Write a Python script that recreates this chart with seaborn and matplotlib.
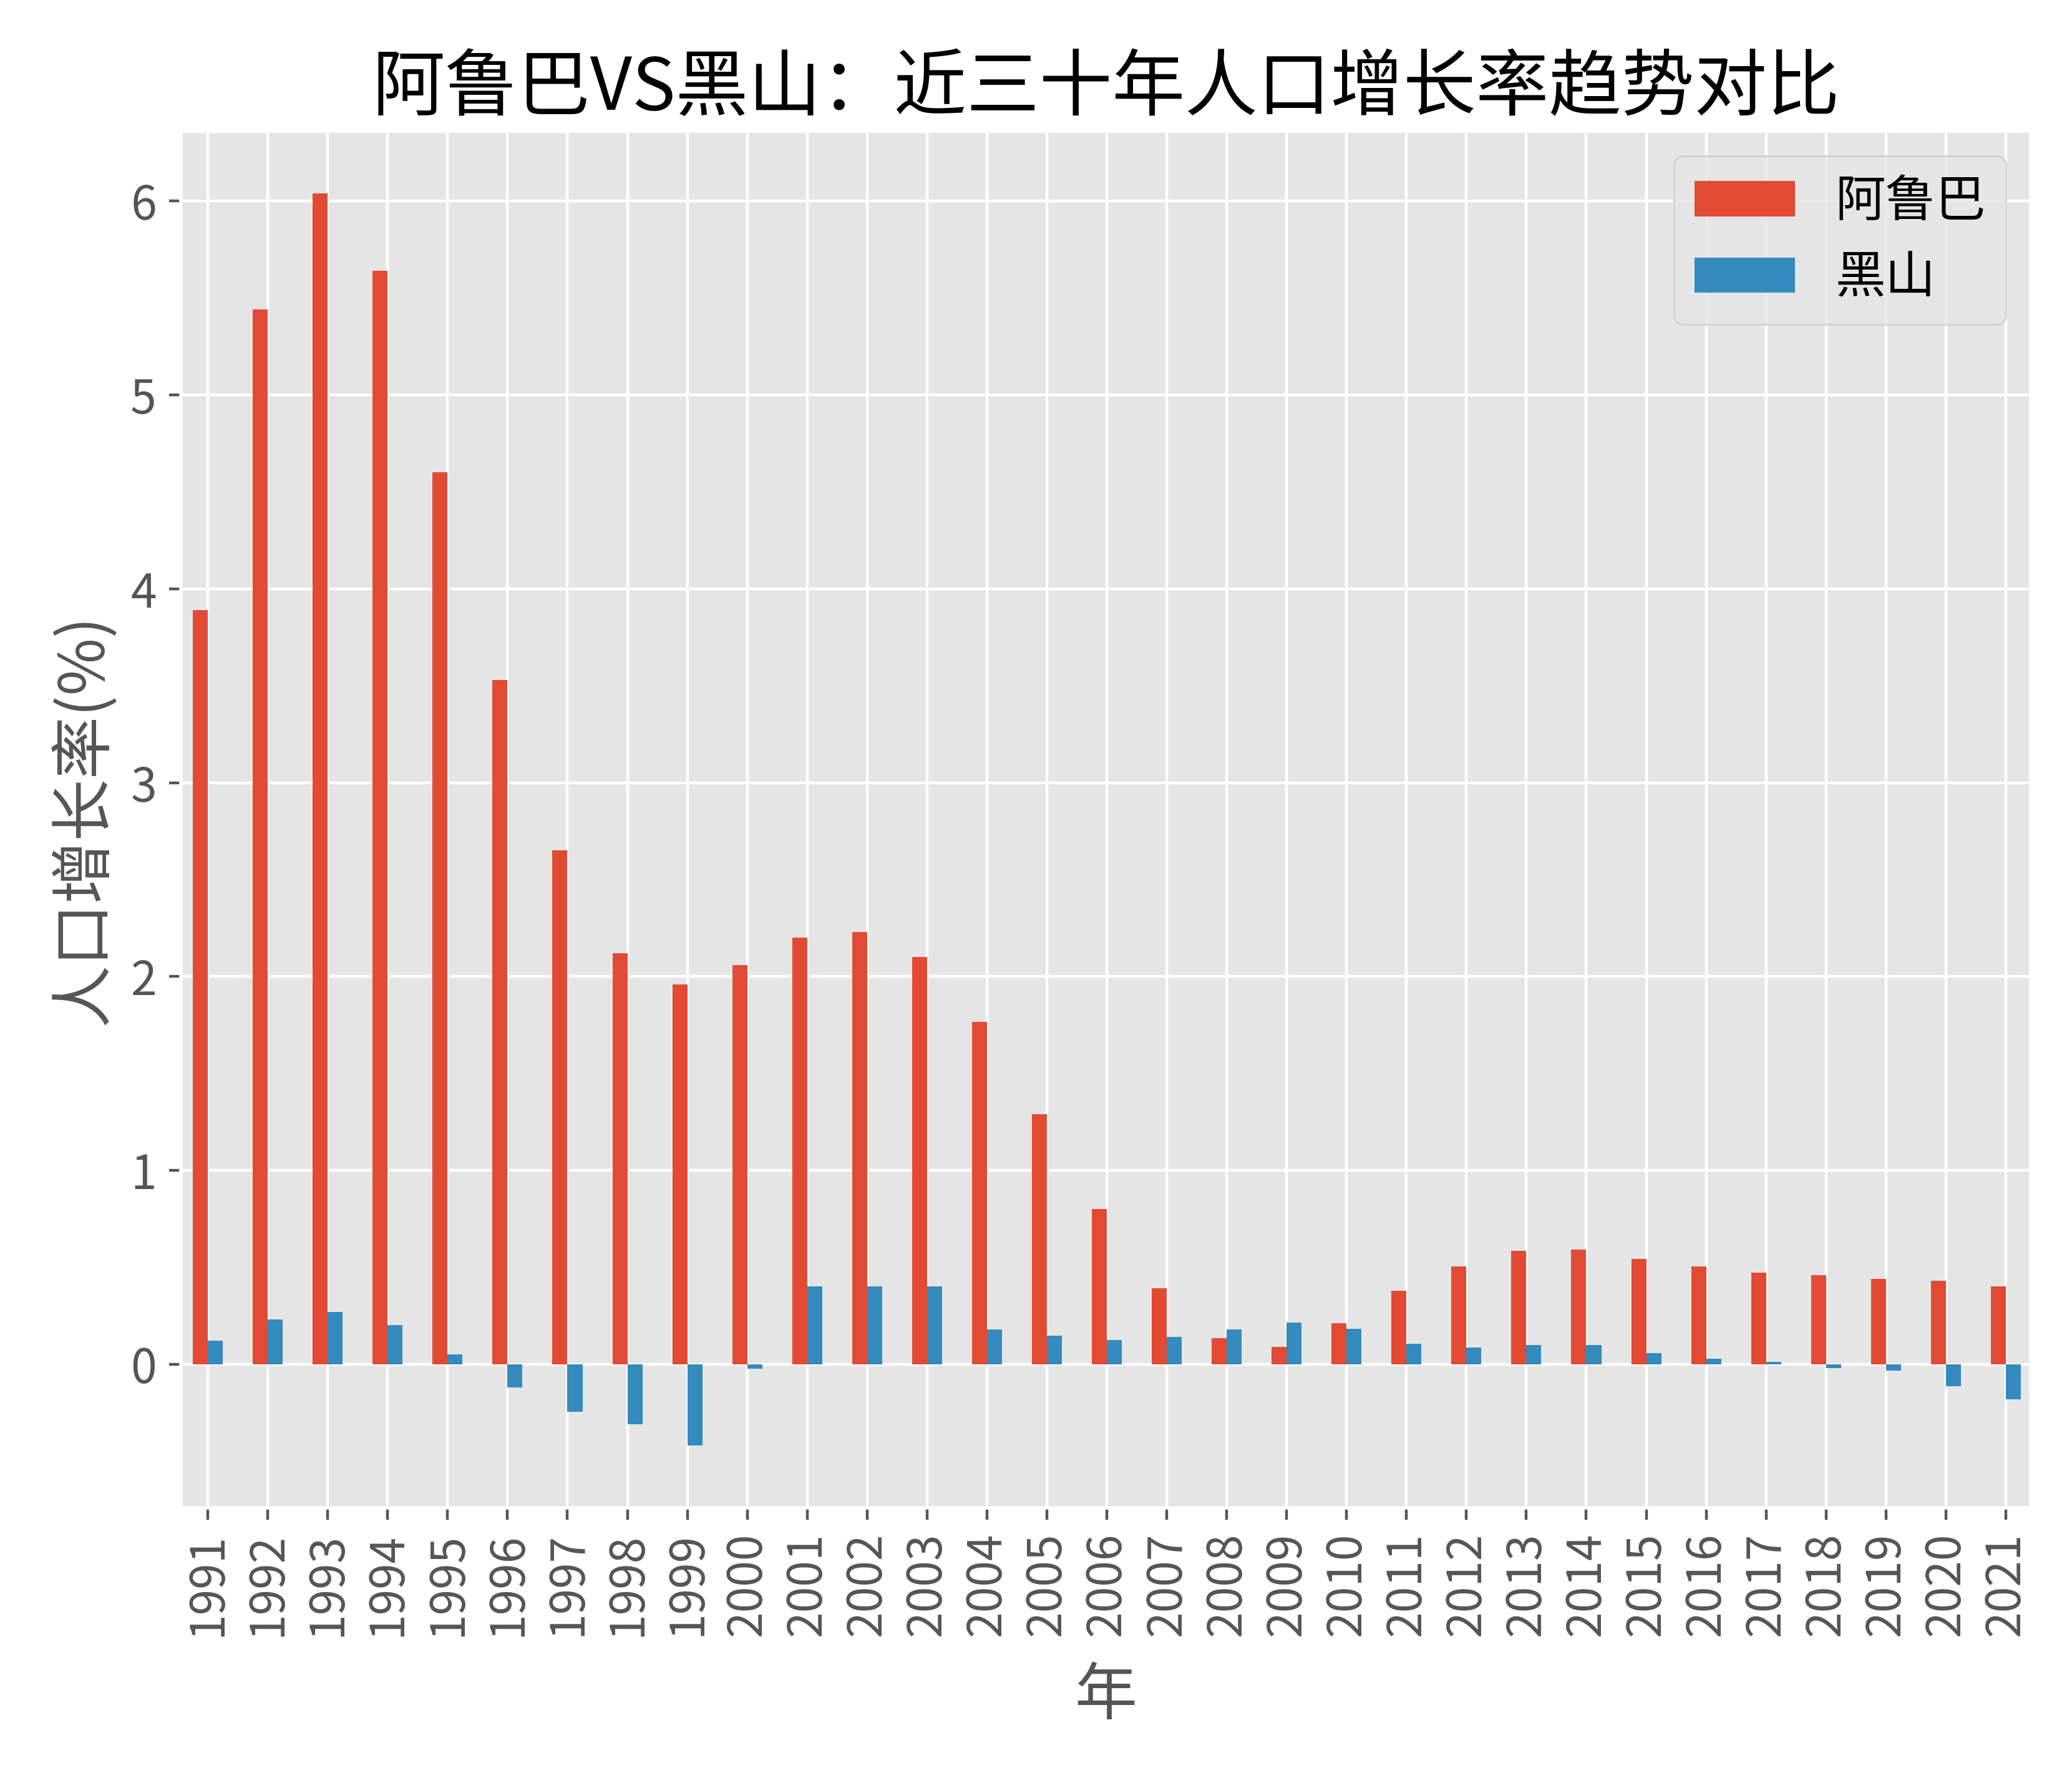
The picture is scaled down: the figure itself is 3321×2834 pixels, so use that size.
import matplotlib
matplotlib.use("Agg")
import matplotlib.pyplot as plt
import seaborn as sns
import pandas as pd

years = [str(y) for y in range(1991, 2022)]
aruba = [3.89, 5.44, 6.04, 5.64, 4.60, 3.53, 2.65, 2.12, 1.96, 2.06,
         2.20, 2.23, 2.10, 1.765, 1.29, 0.80, 0.39, 0.135, 0.09, 0.21,
         0.379, 0.504, 0.584, 0.59, 0.542, 0.504, 0.472, 0.459, 0.44, 0.43, 0.40]
montenegro = [0.12, 0.23, 0.27, 0.20, 0.05, -0.12, -0.245, -0.31, -0.42, -0.025,
              0.40, 0.40, 0.40, 0.18, 0.147, 0.125, 0.139, 0.18, 0.215, 0.183,
              0.106, 0.087, 0.099, 0.099, 0.058, 0.026, 0.013, -0.022, -0.032, -0.115, -0.183]
series_names = ["阿鲁巴", "黑山"]
colors = ["#E24A33", "#348ABD"]

df = pd.DataFrame({
    "年": years * 2,
    "值": aruba + montenegro,
    "国家": [series_names[0]] * len(years) + [series_names[1]] * len(years),
})

plt.style.use("ggplot")
plt.rcParams["font.family"] = ["Noto Sans CJK SC", "DejaVu Sans"]
plt.rcParams["axes.unicode_minus"] = False

fig = plt.figure(figsize=(3321 / 400, 2834 / 400), dpi=400)
ax = fig.add_axes([0.0873, 0.147, 0.9928 - 0.0873 - 0.0126, 0.926 - 0.147])

sns.barplot(data=df, x="年", y="值", hue="国家", order=years, hue_order=series_names,
            palette=colors, width=0.5, gap=0, errorbar=None, linewidth=0,
            saturation=1, ax=ax)

ax.set_xlim(-0.45, 30.42)
ax.tick_params(axis="x", labelrotation=90, labelsize=13.5)
ax.tick_params(axis="y", labelsize=13.5)
ax.grid(True, color="white")
ax.set_axisbelow(True)
ax.set_title("阿鲁巴VS黑山：近三十年人口增长率趋势对比", fontsize=21, color="black")
ax.set_xlabel("年", fontsize=18, color="#555555", labelpad=8)
ax.set_ylabel("人口增长率(%)", fontsize=18, color="#555555")
sns.move_legend(ax, "upper right", title=None, fontsize=14.5)

fig.savefig("out.png", dpi=400)
